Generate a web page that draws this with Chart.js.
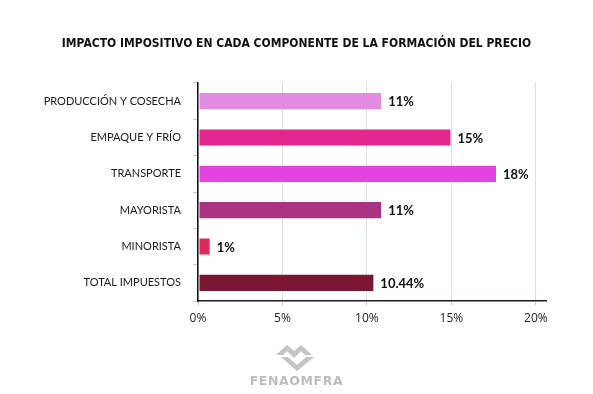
<!DOCTYPE html>
<html>
<head>
<meta charset="utf-8">
<script src="https://cdn.jsdelivr.net/npm/chart.js@4"></script>
<style>
    html, body { margin: 0; padding: 0; background: #fff; }
    #wrap { position: relative; width: 593px; height: 394px; }
    #title { position: absolute; left: 0; top: 36px; width: 593px; text-align: center;
             font-family: "DejaVu Sans Condensed", "DejaVu Sans", sans-serif; font-weight: bold;
             font-size: 12px; color: #111; padding-left: 0px; }
    #logo { position: absolute; left: 0; top: 343px; width: 593px; text-align: center; }
    #logo .name { font-family: "DejaVu Sans", sans-serif; font-weight: bold; font-size: 12.5px; color: #bdbdbd; letter-spacing: 0.6px; margin-top: -2px; }
</style>
</head>
<body>
<div id="wrap">
    <canvas id="impuestosChart" width="593" height="394"></canvas>
    <div id="title">IMPACTO IMPOSITIVO EN CADA COMPONENTE DE LA FORMACIÓN DEL PRECIO</div>
    <div id="logo">
        <svg width="46" height="28" viewBox="0 0 46 28">
            <path d="M2 12 L13 2 L20 8 L27 2 L38 12 L31 12 L27 8 L20 15 L13 8 L9 12 Z" fill="#c4c4c4"/>
            <path d="M7 14 L14 14 L23 22 L32 14 L40 14 L23 28 Z" fill="#c4c4c4"/>
        </svg>
        <div class="name">FENAOMFRA</div>
    </div>
</div>
<script>
    // Datos
    const categories = ['PRODUCCIÓN Y COSECHA', 'EMPAQUE Y FRÍO', 'TRANSPORTE', 'MAYORISTA', 'MINORISTA', 'TOTAL IMPUESTOS'];
    const values = [10.9, 15, 17.7, 10.9, 0.75, 10.44];
    const valueLabels = ['11%', '15%', '18%', '11%', '1%', '10.44%'];
    const xTicks = [0, 5, 10, 15, 20];

    const barColors = ['#E38BE0', '#E2278F', '#E244E1', '#AA3383', '#DC2A5C', '#7A1632'];

    // Etiquetas al final de cada barra
    const valueLabelPlugin = {
        id: 'valueLabels',
        afterDatasetsDraw(chart) {
            const ctx = chart.ctx;
            const meta = chart.getDatasetMeta(0);
            ctx.save();
            ctx.font = 'bold 13px Lato, sans-serif';
            ctx.fillStyle = '#111';
            ctx.textAlign = 'left';
            ctx.textBaseline = 'middle';
            meta.data.forEach((bar, i) => {
                ctx.fillText(valueLabels[i], bar.x + 6, bar.y + 1);
            });
            ctx.restore();
        }
    };

    const ctx = document.getElementById('impuestosChart').getContext('2d');
    const chart = new Chart(ctx, {
        type: 'bar',
        data: {
            labels: categories,
            datasets: [{
                data: values,
                backgroundColor: barColors,
                borderColor: 'rgba(255,255,255,0.35)',
                borderWidth: 1,
                borderSkipped: false,
                barPercentage: 0.5,
                categoryPercentage: 1
            }]
        },
        options: {
            indexAxis: 'y',
            responsive: false,
            animation: false,
            layout: { padding: { left: 0, right: 47, top: 83, bottom: 0 } },
            scales: {
                x: {
                    min: 0,
                    max: 20.6,
                    afterBuildTicks: (scale) => {
                        scale.ticks = xTicks.map(v => ({ value: v }));
                    },
                    afterFit: (scale) => { scale.height = 93; },
                    ticks: {
                        callback: (v) => v + '%',
                        color: '#222',
                        padding: 6,
                        font: { family: '"Open Sans", sans-serif', size: 12 }
                    },
                    grid: {
                        color: '#dde1e3',
                        tickLength: 4,
                        tickColor: '#c8c8c8'
                    },
                    border: { color: '#1a1a2a', width: 1.5 }
                },
                y: {
                    afterFit: (scale) => { scale.width = 198; },
                    ticks: {
                        color: '#1a1a1a',
                        padding: 12,
                        font: { family: 'Lato, sans-serif', size: 11 }
                    },
                    grid: {
                        drawOnChartArea: false,
                        offset: true,
                        tickLength: 5,
                        tickColor: '#cccccc'
                    },
                    border: { color: '#111', width: 1.5 }
                }
            },
            plugins: {
                legend: { display: false },
                tooltip: { enabled: false },
                title: { display: false }
            }
        },
        plugins: [valueLabelPlugin]
    });
</script>
</body>
</html>
